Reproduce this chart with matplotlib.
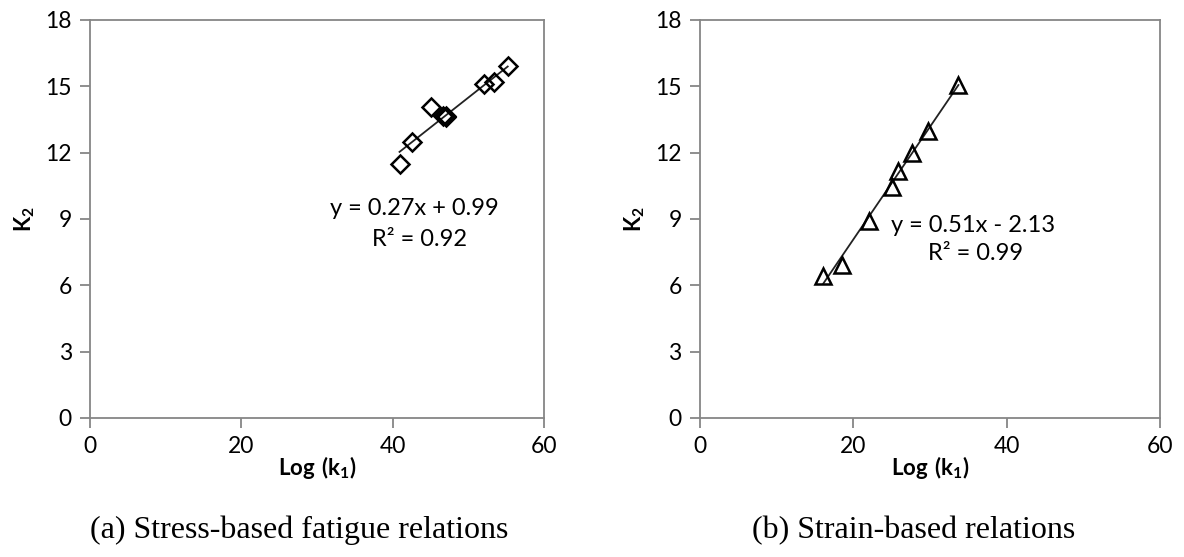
import numpy as np
import matplotlib.pyplot as plt

plt.rcParams['font.family'] = ['Lato', 'DejaVu Sans']
plt.rcParams['mathtext.fontset'] = 'custom'
plt.rcParams['mathtext.rm'] = 'Lato'
plt.rcParams['mathtext.bf'] = 'Lato:bold'

# (a) stress-based
stress_x = [40.9, 42.6, 45.0, 46.7, 47.0, 47.1, 52.1, 53.4, 55.2]
stress_y = [11.5, 12.5, 14.05, 13.65, 13.6, 13.65, 15.1, 15.2, 15.9]
stress_fit = (0.27, 0.99)

# (b) strain-based
strain_x = [16.1, 18.5, 22.0, 25.0, 25.8, 27.6, 29.7, 33.7]
strain_y = [6.4, 6.9, 8.9, 10.45, 11.15, 12.0, 13.0, 15.05]
strain_fit = (0.51, -2.13)

x_ticks = [0, 20, 40, 60]
y_ticks = [0, 3, 6, 9, 12, 15, 18]
grey = '#868686'

fig = plt.figure(figsize=(11.84, 5.57), dpi=100)
ax1 = fig.add_axes([0.076, 0.2496, 0.3835, 0.7146])
ax2 = fig.add_axes([0.591, 0.2496, 0.389, 0.7146])


def style(ax):
    ax.set_xlim(0, 60)
    ax.set_ylim(0, 18)
    ax.set_xticks(x_ticks)
    ax.set_yticks(y_ticks)
    for s in ax.spines.values():
        s.set_color(grey)
        s.set_linewidth(1.3)
    ax.tick_params(direction='out', length=7, width=1.3, color=grey,
                   labelsize=16.5, pad=6)
    ax.set_xlabel(r'$\mathbf{Log\ (k_1)}$', fontsize=16, labelpad=-2)
    ax.set_ylabel(r'$\mathbf{K_2}$', fontsize=16, labelpad=6)


def fit_line(ax, xs, coef):
    xl = np.array([min(xs), max(xs)])
    ax.plot(xl, coef[0] * xl + coef[1], color='#222222', lw=1.3, zorder=2)


# panel a
ax1.plot(stress_x, stress_y, linestyle='none', marker='D', ms=9,
         mfc='none', mec='black', mew=1.8, zorder=3)
fit_line(ax1, stress_x, stress_fit)
ax1.text(42.8, 9.46, 'y = 0.27x + 0.99', ha='center', va='center', fontsize=17)
ax1.text(43.6, 8.05, 'R² = 0.92', ha='center', va='center', fontsize=17)
style(ax1)

# panel b
ax2.plot(strain_x, strain_y, linestyle='none', marker='^', ms=11,
         mfc='none', mec='black', mew=1.8, zorder=3)
fit_line(ax2, strain_x, strain_fit)
ax2.text(35.6, 8.69, 'y = 0.51x - 2.13', ha='center', va='center', fontsize=17)
ax2.text(35.9, 7.42, 'R² = 0.99', ha='center', va='center', fontsize=17)
style(ax2)

fig.text(0.2525, 0.048, '(a) Stress-based fatigue relations', ha='center',
         va='center', fontsize=23, family='Liberation Serif')
fig.text(0.772, 0.048, '(b) Strain-based relations', ha='center',
         va='center', fontsize=23, family='Liberation Serif')

fig.savefig('out.png', dpi=100)
